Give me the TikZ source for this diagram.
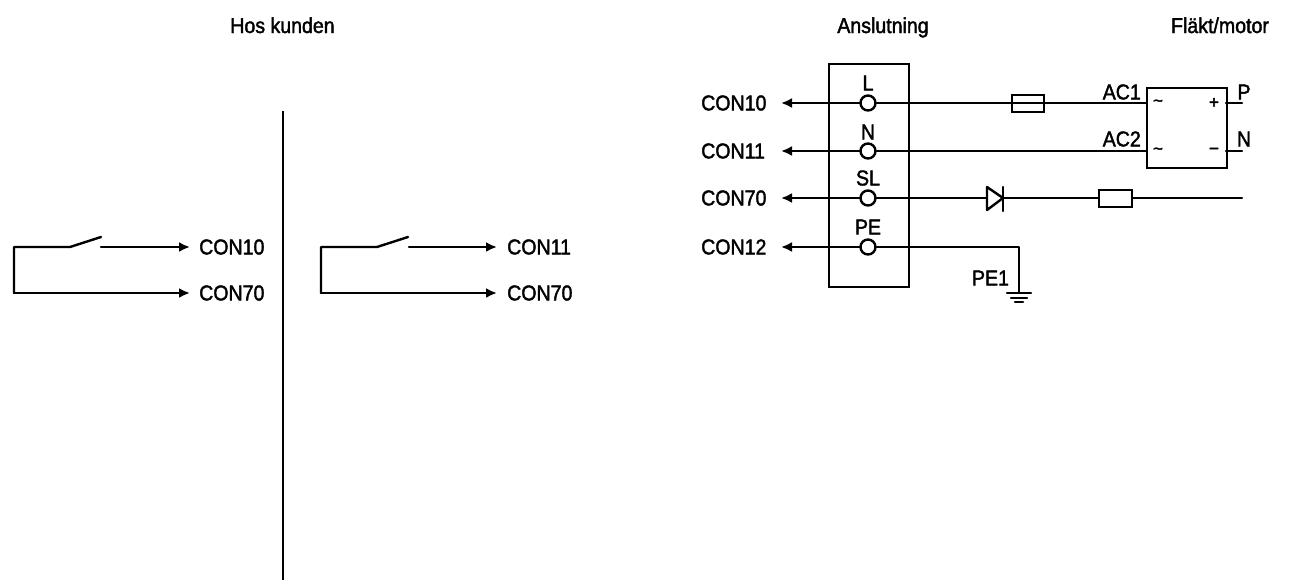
\documentclass[tikz,border=0pt]{standalone}
\usepackage{fontspec}
\setmainfont{Liberation Sans}[FakeStretch=0.91,FakeBold=1.8]
\newfontfamily\plainsym{Liberation Sans}[FakeBold=2]
\usetikzlibrary{arrows.meta}
\tikzset{
  wire/.style={line width=2.4pt,line cap=round,line join=round},
  arrowwire/.style={wire,-{Latex[length=11pt,width=10pt]}},
  lab/.style={font=\fontsize{21.5}{22}\selectfont,inner sep=0pt,text=black},
  head/.style={lab,anchor=base},
  term/.style={circle,draw,line width=2.4pt,minimum size=15pt,inner sep=0pt,fill=white},
  boxx/.style={draw,line width=2.2pt,inner sep=0pt,fill=white},
  sym/.style={inner sep=0pt,font=\plainsym\fontsize{17}{17}\selectfont},
}
\begin{document}
\begin{tikzpicture}[x=1pt,y=-1pt]
\useasboundingbox (0,0) rectangle (1291,582);
% headings
\node[head] (h1) at (282.5,33) {Hos kunden};
\node[head] (h2) at (883,33) {Anslutning};
\node[head] (h3) at (1220,33) {Fläkt/motor};
% divider
\coordinate (d1) at (283,111); \coordinate (d2) at (283,580);
\draw[wire,line width=2.7pt,line cap=butt] (d1) -- (d2);
% left circuit
\node[lab,anchor=west] (a1) at (199,247) {CON10};
\node[lab,anchor=west] (a2) at (199,293) {CON70};
\coordinate (a0) at (70,247); \coordinate (a0b) at (101,237); \coordinate (a0c) at (101,247);
\draw[wire] (a0b) -- (a0) -- (14,247) -- (14,293) coordinate (a3);
\draw[arrowwire] (a3) -- (190,293);
\draw[arrowwire] (a0c) -- (190,247);
% middle circuit
\node[lab,anchor=west] (b1) at (507,247) {CON11};
\node[lab,anchor=west] (b2) at (507,293) {CON70};
\coordinate (b0) at (377,247); \coordinate (b0b) at (408,237); \coordinate (b0c) at (409,247);
\draw[wire] (b0b) -- (b0) -- (321,247) -- (321,293) coordinate (b3);
\draw[arrowwire] (b3) -- (497,293);
\draw[arrowwire] (b0c) -- (497,247);
% terminal box
\node[boxx,minimum width=80pt,minimum height=223pt,anchor=north west,fill=none] (tb) at (828,63) {};
\foreach \n/\y/\t/\c/\ly in {L/103/L/CON10/83, N/151/N/CON11/132, S/198/SL/CON70/178, P/247/PE/CON12/227}{
  \coordinate (e\n) at (781,\y);
  \node[lab,anchor=west] (c\n) at (701,\y) {\c};
  \draw[arrowwire] (868,\y) -- (e\n);
  \node[term] (t\n) at (868,\y) {};
  \node[lab] (l\n) at (868,\ly) {\t};
}
% bridge
\node[boxx,minimum width=80pt,minimum height=80pt,anchor=north west] (br) at (1146,87) {};
\node[lab,anchor=east] (ac1) at (1141,92) {AC1};
\node[lab,anchor=east] (ac2) at (1141,139) {AC2};
\node[lab] (pp) at (1244,92) {P};
\node[lab] (nn) at (1244,139) {N};
\node[sym] (s1) at (1158,103) {\char`\~};
\node[sym] (s2) at (1158,151) {\char`\~};
\node[sym] (s3) at (1214,103) {+};
\node[sym] (s4) at (1214,151) {\char"2212};
\coordinate (po) at (1242,103); \coordinate (no) at (1242,151);
\draw[wire] (1226,103) -- (po);
\draw[wire] (1226,151) -- (no);
% L wire with fuse
\draw[wire] (tL) -- (1146,103);
\node[boxx,fill=none,minimum width=32pt,minimum height=17pt,anchor=west] (fuse) at (1011,103.5) {};
% N wire
\draw[wire] (tN) -- (1146,151);
% SL wire
\coordinate (so) at (1242,198);
\draw[wire] (tS) -- (so);
\node[boxx,minimum width=33pt,minimum height=17pt,anchor=west] (res) at (1098,198.5) {};
\draw[wire,fill=white] (987,187) -- (1003,198) -- (987,210) -- cycle;
\draw[wire] (1003,187) -- (1003,211);
% PE wire
\coordinate (pe) at (1019,247);
\coordinate (gnd) at (1019,293);
\draw[wire] (tP) -- (pe) -- (gnd);
\draw[wire] (1007,293) -- (1031,293);
\draw[wire] (1011,298) -- (1027,298);
\draw[wire] (1015,302) -- (1023,302);
\node[lab] (pe1) at (990.5,278) {PE1};
\end{tikzpicture}
\end{document}
